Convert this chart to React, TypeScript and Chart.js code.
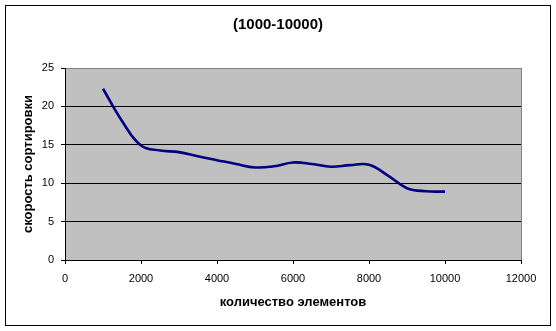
import React, { useEffect, useRef } from "react";
import { Chart, registerables } from "chart.js";

Chart.register(...registerables);

const elementCounts = [1000, 1500, 2000, 2500, 3000, 3500, 4000, 4500, 5000, 5500, 6000, 6500, 7000, 7500, 8000, 8500, 9000, 9500, 10000];
const sortSpeed = [22.3, 18.1, 14.9, 14.25, 14.05, 13.5, 13.0, 12.5, 12.05, 12.2, 12.7, 12.5, 12.15, 12.35, 12.4, 11.0, 9.35, 8.95, 8.9];

const chartTitle = "(1000-10000)";
const xTitle = "количество элементов";
const yTitle = "скорость сортировки";

const FONT = "'Liberation Sans', Arial, sans-serif";

const framePlugin = {
  id: "frame",
  beforeDraw(chart: any) {
    const { ctx, chartArea } = chart;
    ctx.save();
    ctx.fillStyle = "#ffffff";
    ctx.fillRect(0, 0, chart.width, chart.height);
    ctx.fillStyle = "#c0c0c0";
    ctx.fillRect(chartArea.left, chartArea.top, chartArea.right - chartArea.left, chartArea.bottom - chartArea.top);
    ctx.restore();
  },
  afterDraw(chart: any) {
    const { ctx, chartArea } = chart;
    ctx.save();
    ctx.strokeStyle = "#808080";
    ctx.lineWidth = 1;
    ctx.beginPath();
    ctx.moveTo(chartArea.right + 0.5, chartArea.top);
    ctx.lineTo(chartArea.right + 0.5, chartArea.bottom);
    ctx.stroke();
    ctx.strokeStyle = "#000000";
    ctx.strokeRect(5.5, 5.5, 545, 320);
    ctx.restore();
  },
};

export default function App() {
  const ref = useRef<HTMLCanvasElement | null>(null);

  useEffect(() => {
    if (!ref.current) return;
    const chart = new Chart(ref.current, {
      type: "line",
      data: {
        datasets: [
          {
            data: elementCounts.map((x, i) => ({ x, y: sortSpeed[i] })),
            borderColor: "#000080",
            backgroundColor: "#000080",
            borderWidth: 2.6,
            pointRadius: 0,
            tension: 0.4,
            fill: false,
          },
        ],
      },
      options: {
        responsive: false,
        animation: false,
        layout: { padding: { top: 0, right: 0, bottom: 0, left: 0 } },
        plugins: {
          legend: { display: false },
          tooltip: { enabled: false },
          title: {
            display: true,
            text: chartTitle,
            color: "#000",
            font: { family: FONT, size: 15, weight: "bold" },
            padding: { top: 16, bottom: 34 },
          },
        },
        scales: {
          x: {
            type: "linear",
            min: 0,
            max: 12000,
            afterFit: (s: any) => {
              s.height = 71;
            },
            ticks: {
              stepSize: 2000,
              color: "#000",
              font: { family: FONT, size: 11 },
              padding: 8,
              maxRotation: 0,
              callback: (v: any) => String(v),
            },
            grid: {
              drawOnChartArea: false,
              drawTicks: true,
              tickLength: 4,
              tickColor: "#000",
            },
            border: { display: true, color: "#000", width: 1 },
            title: {
              display: true,
              text: xTitle,
              color: "#000",
              font: { family: FONT, size: 13, weight: "bold" },
              padding: { top: 0, bottom: 21 },
            },
          },
          y: {
            type: "linear",
            min: 0,
            max: 25,
            afterFit: (s: any) => {
              s.width = 65;
            },
            ticks: {
              stepSize: 5,
              color: "#000",
              font: { family: FONT, size: 11 },
              padding: 7,
              callback: (v: any) => String(v),
            },
            grid: {
              color: (c: any) => (c.tick && c.tick.value === 25 ? "#808080" : "#000000"),
              lineWidth: 1,
              drawTicks: true,
              tickLength: 4,
              tickColor: "#000",
            },
            border: { display: true, color: "#000", width: 1 },
            title: {
              display: true,
              text: yTitle,
              color: "#000",
              font: { family: FONT, size: 13, weight: "bold" },
              padding: { top: 21, bottom: 0 },
            },
          },
          y2: {
            type: "linear",
            position: "right",
            display: true,
            afterFit: (s: any) => {
              s.width = 35;
            },
            ticks: { display: false },
            grid: { display: false, drawTicks: false },
            border: { display: false },
          },
        },
      },
      plugins: [framePlugin],
    });
    return () => chart.destroy();
  }, []);

  return (
    <div style={{ position: "absolute", left: 0, top: 0, width: 556, height: 331, background: "#fff" }}>
      <canvas ref={ref} width={556} height={331} />
    </div>
  );
}
